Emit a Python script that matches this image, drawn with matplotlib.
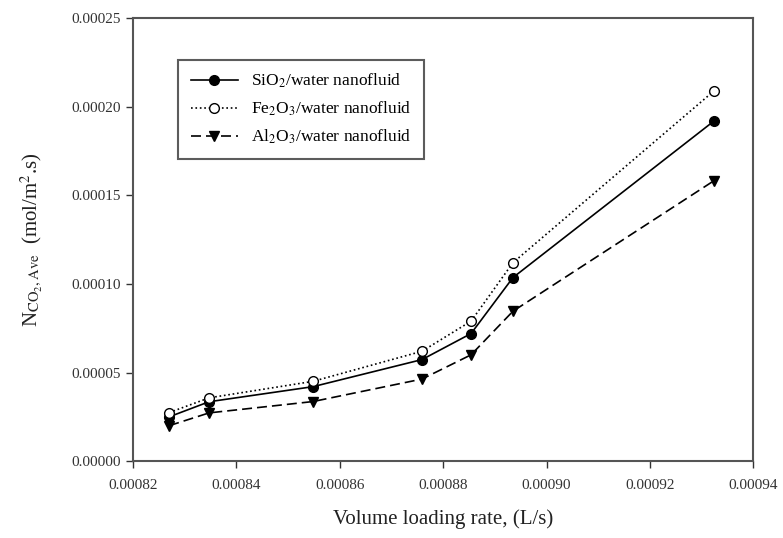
import matplotlib
matplotlib.use("Agg")
import matplotlib.pyplot as plt

plt.rcParams['font.family'] = ['Liberation Serif', 'DejaVu Serif']
plt.rcParams['mathtext.fontset'] = 'stix'

rate = [0.000827, 0.0008347, 0.0008548, 0.0008759, 0.0008854, 0.0008935, 0.0009324]
sio2 = [0.0000250, 0.0000335, 0.0000420, 0.0000573, 0.0000720, 0.0001036, 0.0001920]
fe2o3 = [0.0000274, 0.0000357, 0.0000450, 0.0000620, 0.0000790, 0.0001120, 0.0002090]
al2o3 = [0.0000200, 0.0000272, 0.0000336, 0.0000463, 0.0000600, 0.0000846, 0.0001583]

fig = plt.figure(figsize=(7.83, 5.38), dpi=100)
ax = fig.add_axes([0.170, 0.143, 0.792, 0.823])

ax.plot(rate, sio2, color='black', linestyle='-', linewidth=1.2, marker='o',
        markersize=7, label=r'SiO$_2$/water nanofluid')
ax.plot(rate, fe2o3, color='black', linestyle=':', linewidth=1.2, marker='o',
        markersize=7, markerfacecolor='white', label=r'Fe$_2$O$_3$/water nanofluid')
ax.plot(rate, al2o3, color='black', linestyle=(0, (6, 3)), linewidth=1.2, marker='v',
        markersize=7, label=r'Al$_2$O$_3$/water nanofluid')

ax.set_xlim(0.00082, 0.00094)
ax.set_ylim(0, 0.00025)
ax.set_xticks([0.00082, 0.00084, 0.00086, 0.00088, 0.00090, 0.00092, 0.00094])
ax.set_yticks([0, 0.00005, 0.00010, 0.00015, 0.00020, 0.00025])
ax.set_xticklabels(['0.00082', '0.00084', '0.00086', '0.00088', '0.00090', '0.00092', '0.00094'])
ax.set_yticklabels(['0.00000', '0.00005', '0.00010', '0.00015', '0.00020', '0.00025'])
ax.tick_params(direction='out', length=5, width=1, labelsize=11, colors='#333333')
ax.tick_params(axis='x', pad=8)
for s in ax.spines.values():
    s.set_linewidth(1.5)
    s.set_color('#555555')

ax.set_xlabel('Volume loading rate, (L/s)', fontsize=15, labelpad=12, color='#222222')
ax.set_ylabel(r'N$_{\mathrm{CO_2,Ave}}$  (mol/m$^2$.s)', fontsize=15, labelpad=20, color='#222222')

leg = ax.legend(loc='upper left', bbox_to_anchor=(0.073, 0.906), borderaxespad=0,
                fontsize=12.5, frameon=True, fancybox=False, edgecolor='#333333',
                borderpad=0.7, handlelength=2.75, handletextpad=0.75, labelspacing=0.55)
leg.get_frame().set_linewidth(1.5)

fig.savefig('out.png', dpi=100)
